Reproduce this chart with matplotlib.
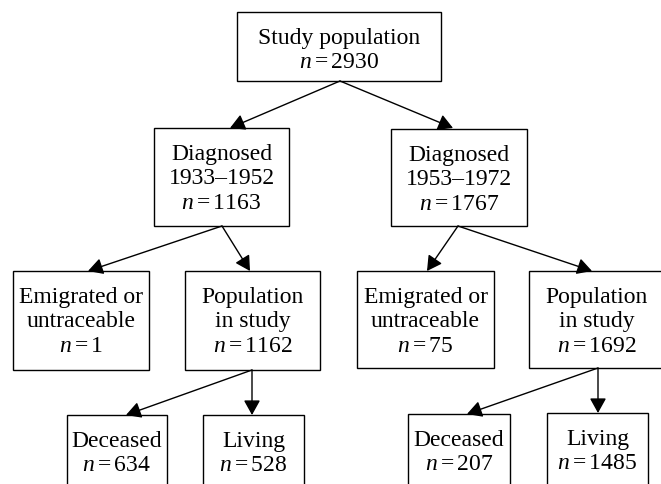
import matplotlib

matplotlib.use("Agg")
import matplotlib.pyplot as plt
from matplotlib.patches import Rectangle


# =====================================================
# Data: flow of the study population
# =====================================================

node_ids = ["all", "d1", "d2", "e1", "p1", "e2", "p2", "x1", "l1", "x2", "l2"]
node_labels = [
    "Study population",
    "Diagnosed\n1933–1952",
    "Diagnosed\n1953–1972",
    "Emigrated or\nuntraceable",
    "Population\nin study",
    "Emigrated or\nuntraceable",
    "Population\nin study",
    "Deceased",
    "Living",
    "Deceased",
    "Living",
]
node_counts = [2930, 1163, 1767, 1, 1162, 75, 1692, 634, 528, 207, 1485]

edge_from = ["all", "all", "d1", "d1", "d2", "d2", "p1", "p1", "p2", "p2"]
edge_to = ["d1", "d2", "e1", "p1", "e2", "p2", "x1", "l1", "x2", "l2"]


# =====================================================
# Layout (pixel coordinates, y pointing down)
# =====================================================

boxes = {
    "all": (237, 13, 441, 82),
    "d1": (154, 129, 289, 227),
    "d2": (391, 130, 527, 227),
    "e1": (13, 272, 149, 371),
    "p1": (185, 272, 320, 371),
    "e2": (357, 272, 494, 369),
    "p2": (529, 272, 664, 369),
    "x1": (67, 416, 167, 500),
    "l1": (203, 416, 304, 500),
    "x2": (408, 415, 510, 500),
    "l2": (547, 414, 648, 500),
}

# where each arrow leaves its parent and where its tip lands
arrow_start = {"all": (340, 82), "d1": (222, 227), "d2": (458, 227),
               "p1": (252, 371), "p2": (598, 369)}
arrow_tip = {"d1": (230, 129), "d2": (453, 129), "e1": (88, 272),
             "p1": (250, 272), "e2": (427, 272), "p2": (592, 272),
             "x1": (126, 416), "l1": (252, 416), "x2": (467, 415),
             "l2": (598, 414)}

line_gap = 24.5
first_baseline = 31

plt.rcParams["mathtext.fontset"] = "custom"
plt.rcParams["mathtext.rm"] = "Liberation Serif"
plt.rcParams["mathtext.it"] = "Liberation Serif:italic"

fig = plt.figure(figsize=(6.61, 4.85), dpi=100)
ax = fig.add_axes([0, 0, 1, 1])
ax.set_xlim(0, 661)
ax.set_ylim(485, 0)
ax.axis("off")

for node, label, count in zip(node_ids, node_labels, node_counts):
    x0, y0, x1, y1 = boxes[node]
    ax.add_patch(Rectangle((x0, y0), x1 - x0, y1 - y0,
                           facecolor="white", edgecolor="black", lw=1.0))
    lines = label.split("\n") + [rf"$n = {count}$"]
    cx = (x0 + x1) / 2
    for i, line in enumerate(lines):
        ax.text(cx, y0 + first_baseline + i * line_gap, line,
                ha="center", va="baseline", fontsize=17,
                family="Liberation Serif", color="black")

for src, dst in zip(edge_from, edge_to):
    ax.annotate(
        "",
        xy=arrow_tip[dst],
        xytext=arrow_start[src],
        arrowprops=dict(
            arrowstyle="-|>,head_length=0.45,head_width=0.25",
            mutation_scale=20,
            lw=1.0,
            color="black",
            shrinkA=0,
            shrinkB=0,
        ),
    )

fig.savefig("out.png", dpi=100)
plt.close(fig)
